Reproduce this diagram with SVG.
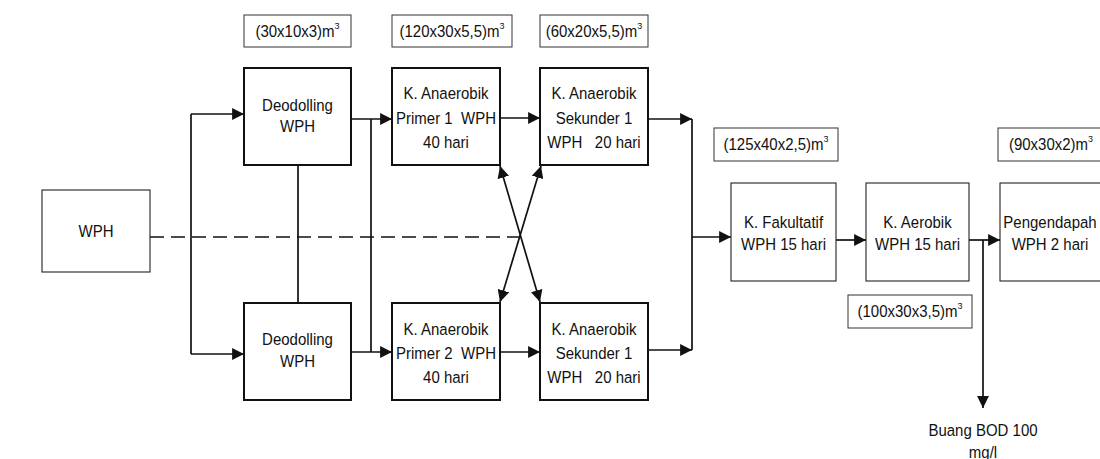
<svg xmlns="http://www.w3.org/2000/svg" width="1100" height="459" viewBox="0 0 1100 459">
<style>
text{font-family:"Liberation Sans",Arial,sans-serif;font-size:15px;fill:#111;text-anchor:middle}
.main{fill:none;stroke:#111;stroke-width:2}
.thin{fill:none;stroke:#222;stroke-width:1.1}
.lab{fill:none;stroke:#333;stroke-width:1}
.c{fill:none;stroke:#111;stroke-width:1.7}
.a{marker-end:url(#ah)}
.d{marker-start:url(#ah);marker-end:url(#ah)}
.dash{stroke-dasharray:14 7}
.sup{font-size:9px}
</style>
<defs>
<marker id="ah" viewBox="0 0 10 10" refX="10" refY="5" markerWidth="7" markerHeight="7" orient="auto-start-reverse" markerUnits="strokeWidth">
<path d="M0,0 L10,5 L0,10 Z" fill="#111"/>
</marker>
</defs>
<rect width="1100" height="459" fill="#fff"/>

<g id="connectors">
<path class="c dash" d="M150,237 H521"/>
<path class="c" d="M191,114 V354"/>
<path class="c a" d="M191,114 H244"/>
<path class="c a" d="M191,354 H244"/>
<path class="c" d="M298,165 V303"/>
<path class="c a" d="M351,119 H392"/>
<path class="c a" d="M351,352 H392"/>
<path class="c" d="M371,119 V352"/>
<path class="c a" d="M500,118 H540"/>
<path class="c a" d="M500,352 H540"/>
<path class="c a" d="M648,119 H692"/>
<path class="c a" d="M648,350 H692"/>
<path class="c" d="M692,119 V350"/>
<path class="c a" d="M692,237 H731"/>
<path class="c d" d="M500,166 L540,302"/>
<path class="c d" d="M541,166 L500,302"/>
<path class="c a" d="M836,240 H866"/>
<path class="c a" d="M969,240 H1000"/>
<path class="c a" d="M983,240 V408"/>
</g>

<g id="lab-deo"><rect class="lab" x="244" y="15" width="107" height="32"/><text transform="translate(297.5,37) scale(1,1.1)">(30x10x3)m<tspan class="sup" dy="-7">3</tspan></text></g>
<g id="lab-prim"><rect class="lab" x="392" y="15" width="120" height="32"/><text transform="translate(452,37) scale(1,1.1)">(120x30x5,5)m<tspan class="sup" dy="-7">3</tspan></text></g>
<g id="lab-sek"><rect class="lab" x="540" y="15" width="108" height="32"/><text transform="translate(594,37) scale(1,1.1)">(60x20x5,5)m<tspan class="sup" dy="-7">3</tspan></text></g>
<g id="lab-fak"><rect class="lab" x="714" y="128" width="124" height="33"/><text transform="translate(776,150) scale(1,1.1)">(125x40x2,5)m<tspan class="sup" dy="-7">3</tspan></text></g>
<g id="lab-peng"><rect class="lab" x="998" y="128" width="104" height="33"/><text transform="translate(1051,150) scale(1,1.1)">(90x30x2)m<tspan class="sup" dy="-7">3</tspan></text></g>
<g id="lab-aer"><rect class="lab" x="848" y="295" width="124" height="33"/><text transform="translate(910,317) scale(1,1.1)">(100x30x3,5)m<tspan class="sup" dy="-7">3</tspan></text></g>

<g id="wph"><rect class="thin" x="42" y="190" width="108" height="82"/><text transform="translate(96,237) scale(1,1.1)">WPH</text></g>
<g id="deo1"><rect class="main" x="244" y="68" width="107" height="97"/><text transform="translate(297.5,111) scale(1,1.1)">Deodolling</text><text transform="translate(297.5,132) scale(1,1.1)">WPH</text></g>
<g id="deo2"><rect class="main" x="244" y="303" width="107" height="97"/><text transform="translate(297.5,345) scale(1,1.1)">Deodolling</text><text transform="translate(297.5,367) scale(1,1.1)">WPH</text></g>
<g id="prim1"><rect class="main" x="392" y="68" width="108" height="97"/><text transform="translate(446,99) scale(1,1.1)">K. Anaerobik</text><text transform="translate(446,124) scale(1,1.1)" xml:space="preserve">Primer 1  WPH</text><text transform="translate(446,148) scale(1,1.1)">40 hari</text></g>
<g id="sek1"><rect class="main" x="540" y="68" width="108" height="97"/><text transform="translate(594,99) scale(1,1.1)">K. Anaerobik</text><text transform="translate(594,124) scale(1,1.1)">Sekunder 1</text><text transform="translate(594,148) scale(1,1.1)" xml:space="preserve">WPH   20 hari</text></g>
<g id="prim2"><rect class="main" x="392" y="303" width="108" height="97"/><text transform="translate(446,335) scale(1,1.1)">K. Anaerobik</text><text transform="translate(446,359) scale(1,1.1)" xml:space="preserve">Primer 2  WPH</text><text transform="translate(446,383) scale(1,1.1)">40 hari</text></g>
<g id="sek2"><rect class="main" x="540" y="303" width="108" height="97"/><text transform="translate(594,335) scale(1,1.1)">K. Anaerobik</text><text transform="translate(594,359) scale(1,1.1)">Sekunder 1</text><text transform="translate(594,383) scale(1,1.1)" xml:space="preserve">WPH   20 hari</text></g>
<g id="fak"><rect class="thin" x="731" y="183" width="105" height="98"/><text transform="translate(783.5,228) scale(1,1.1)">K. Fakultatif</text><text transform="translate(783.5,250) scale(1,1.1)">WPH 15 hari</text></g>
<g id="aer"><rect class="thin" x="866" y="183" width="103" height="98"/><text transform="translate(917.5,228) scale(1,1.1)">K. Aerobik</text><text transform="translate(917.5,250) scale(1,1.1)">WPH 15 hari</text></g>
<g id="peng"><rect class="thin" x="1000" y="183" width="102" height="98"/><text transform="translate(1050,228) scale(1,1.1)">Pengendapah</text><text transform="translate(1050,250) scale(1,1.1)">WPH 2 hari</text></g>
<g id="buang"><text transform="translate(983,436) scale(1,1.1)">Buang BOD 100</text><text transform="translate(983,458) scale(1,1.1)">mg/l</text></g>
</svg>
